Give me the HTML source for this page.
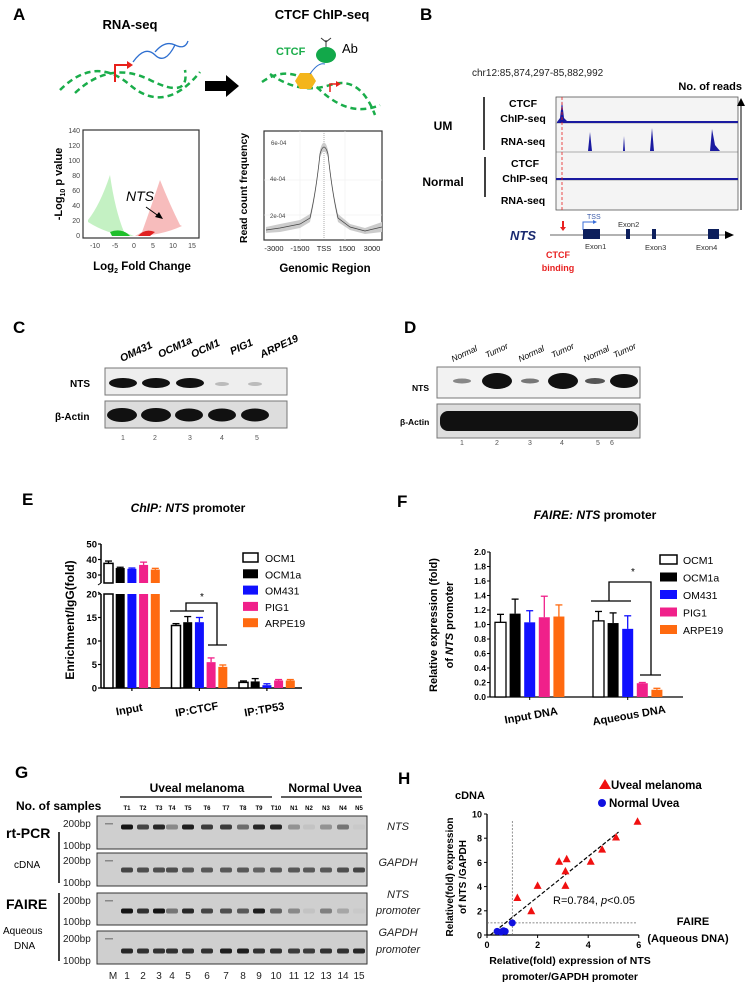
<!DOCTYPE html>
<html><head><meta charset="utf-8"><style>
html,body{margin:0;padding:0;background:#fff}
svg{display:block;font-family:"Liberation Sans",Arial,sans-serif}
</style></head><body>
<svg id="fig" width="754" height="987" viewBox="0 0 754 987" xmlns="http://www.w3.org/2000/svg">
<!-- ===== Panel A ===== -->
<g>
<text x="13" y="20" font-size="17" font-weight="bold">A</text>
<text x="130" y="29" font-size="13" font-weight="bold" text-anchor="middle">RNA-seq</text>
<path d="M60,90 Q95,55 130,85 T200,72" fill="none" stroke="#1aad4a" stroke-width="2.5" stroke-dasharray="6,4"/>
<path d="M75,93 Q110,60 150,80 T185,70" fill="none" stroke="#1aad4a" stroke-width="2.5" stroke-dasharray="6,4"/>
<path d="M115,82 V65 H128" fill="none" stroke="#e8201a" stroke-width="2"/><path d="M127,61 L133,65 L127,69Z" fill="#e8201a"/>
<path d="M133,62 Q145,45 155,55 T175,45" fill="none" stroke="#2e6fd0" stroke-width="1.3"/>
<path d="M155,52 Q165,40 175,45 T188,41" fill="none" stroke="#2e6fd0" stroke-width="1.3"/>
<path d="M205,81 H226 V75 L239,86 L226,97 V91 H205Z" fill="#000"/>
<text x="322" y="19" font-size="13" font-weight="bold" text-anchor="middle">CTCF ChIP-seq</text>
<text x="276" y="55" font-size="11" font-weight="bold" fill="#1aad4a">CTCF</text>
<ellipse cx="326" cy="55" rx="10" ry="8" fill="#12a84a"/>
<text x="342" y="53" font-size="13">Ab</text>
<path d="M326,47 V40 M326,42 L321,38 M326,42 L331,38" stroke="#333" stroke-width="1"/>
<path d="M262,82 Q290,62 320,90 T380,105" fill="none" stroke="#1aad4a" stroke-width="2.5" stroke-dasharray="6,4"/>
<path d="M270,74 Q300,95 330,85 T375,115" fill="none" stroke="#1aad4a" stroke-width="2.5" stroke-dasharray="6,4"/>
<polygon points="300,73 311,73 316,81 311,89 300,89 295,81" fill="#f4b51b"/>
<path d="M310,74 Q318,62 325,64" fill="none" stroke="#2e6fd0" stroke-width="1"/>
<path d="M330,92 V84 H336" fill="none" stroke="#e8201a" stroke-width="1.5"/><path d="M336,81 L341,84 L336,87Z" fill="#e8201a"/>
<!-- volcano -->
<rect x="83" y="130" width="116" height="108" fill="#fff" stroke="#333" stroke-width="1.2"/>
<path d="M88,220 Q100,205 110,175 Q115,210 124,232 L134,236 Q110,236 88,222Z" fill="#7ce07a" opacity="0.45"/>
<path d="M110,232 Q120,228 128,234 L130,236 L112,236Z" fill="#1fbf2a"/>
<path d="M180,225 Q170,205 160,180 Q150,210 142,232 L135,236 Q160,236 182,226Z" fill="#f07a7a" opacity="0.5"/>
<path d="M138,236 Q145,228 155,232 L150,236Z" fill="#e02020"/>
<g font-size="7" fill="#444" text-anchor="end">
<text x="80" y="238">0</text><text x="80" y="223">20</text><text x="80" y="208">40</text><text x="80" y="193">60</text><text x="80" y="178">80</text><text x="80" y="163">100</text><text x="80" y="148">120</text><text x="80" y="133">140</text></g>
<g font-size="7" fill="#444" text-anchor="middle">
<text x="95" y="248">-10</text><text x="115" y="248">-5</text><text x="134" y="248">0</text><text x="153" y="248">5</text><text x="173" y="248">10</text><text x="192" y="248">15</text></g>
<text x="126" y="201" font-size="14" font-style="italic">NTS</text>
<path d="M146,207 L160,217" stroke="#000" stroke-width="1"/><path d="M163,219 L155,217 L159,212Z" fill="#000"/>
<text transform="translate(62,184) rotate(-90)" font-size="11" font-weight="bold" text-anchor="middle">-Log<tspan font-size="7" dy="3">10</tspan><tspan dy="-3"> p value</tspan></text>
<text x="142" y="270" font-size="11.5" font-weight="bold" text-anchor="middle">Log<tspan font-size="7" dy="3">2</tspan><tspan dy="-3"> Fold Change</tspan></text>
<!-- chip profile -->
<rect x="264" y="131" width="118" height="109" fill="#fff" stroke="#333" stroke-width="1.2"/>
<g stroke="#eee" stroke-width="0.6"><line x1="264" y1="180" x2="382" y2="180"/><line x1="264" y1="215" x2="382" y2="215"/><line x1="300" y1="131" x2="300" y2="240"/><line x1="345" y1="131" x2="345" y2="240"/></g>
<line x1="324" y1="131" x2="324" y2="240" stroke="#777" stroke-width="0.6" stroke-dasharray="1,1"/>
<path d="M266,227 L280,224 L300,220 L310,214 Q316,190 320,150 Q324,135 328,150 Q332,190 338,214 L350,224 L365,228 L382,222 L382,232 L365,234 L350,230 L338,222 Q332,195 328,158 Q324,145 320,158 Q316,195 310,222 L300,228 L280,232 L266,233Z" fill="#ccc"/>
<path d="M266,230 L280,228 L300,224 L310,218 Q316,192 320,154 Q324,140 328,154 Q332,192 338,218 L350,227 L365,231 L382,227" fill="none" stroke="#444" stroke-width="0.7"/>
<g font-size="6" fill="#444"><text x="271" y="145">6e-04</text><text x="270" y="181">4e-04</text><text x="270" y="218">2e-04</text></g>
<g font-size="7.5" fill="#222" text-anchor="middle"><text x="274" y="251">-3000</text><text x="300" y="251">-1500</text><text x="324" y="251">TSS</text><text x="347" y="251">1500</text><text x="372" y="251">3000</text></g>
<text transform="translate(247,188) rotate(-90)" font-size="10.5" font-weight="bold" text-anchor="middle">Read count frequency</text>
<text x="325" y="272" font-size="11.5" font-weight="bold" text-anchor="middle">Genomic Region</text>
</g>
<!-- ===== Panel B ===== -->
<g>
<text x="420" y="20" font-size="17" font-weight="bold">B</text>
<text x="472" y="76" font-size="10" fill="#222">chr12:85,874,297-85,882,992</text>
<text x="742" y="90" font-size="11" font-weight="bold" text-anchor="end">No. of reads</text>
<rect x="556" y="97" width="182" height="113" fill="#f4f4f4" stroke="#555" stroke-width="0.8"/>
<g stroke="#666" stroke-width="0.6"><line x1="556" y1="123" x2="738" y2="123"/><line x1="556" y1="152" x2="738" y2="152"/><line x1="556" y1="180" x2="738" y2="180"/></g>
<path d="M557,122 L560,118 L562,101 L564,118 L567,121 L738,121 L738,123 L557,123Z" fill="#1a1aa0"/>
<g fill="#1a1aa0"><path d="M588,151 L590,132 L592,151Z"/><path d="M623,151 L624,136 L625,151Z"/><path d="M650,151 L652,128 L654,151Z"/><path d="M710,151 L712,129 L715,145 L720,151Z"/><rect x="556" y="178" width="182" height="2"/></g>
<line x1="562" y1="97" x2="562" y2="210" stroke="#e82020" stroke-width="0.8" stroke-dasharray="3,2"/>
<path d="M741,210 V103" stroke="#000" stroke-width="1"/><path d="M737,106 L741,98 L745,106Z" fill="#000"/>
<g font-size="10.5" font-weight="bold" text-anchor="middle"><text x="523" y="107">CTCF</text><text x="523" y="122">ChIP-seq</text><text x="523" y="145">RNA-seq</text><text x="525" y="167">CTCF</text><text x="525" y="182">ChIP-seq</text><text x="523" y="204">RNA-seq</text>
<text x="443" y="130" font-size="12">UM</text><text x="443" y="186" font-size="12">Normal</text></g>
<line x1="484" y1="97" x2="484" y2="150" stroke="#000" stroke-width="1.5"/><line x1="485" y1="157" x2="485" y2="197" stroke="#000" stroke-width="1.5"/>
<line x1="550" y1="235" x2="725" y2="235" stroke="#333" stroke-width="0.8"/><path d="M725,231 L734,235 L725,239Z" fill="#000"/>
<g fill="#0d1f5c"><rect x="583" y="229" width="17" height="10"/><rect x="626" y="229" width="4" height="10"/><rect x="652" y="229" width="4" height="10"/><rect x="708" y="229" width="11" height="10"/></g>
<path d="M583,230 V222 H594" fill="none" stroke="#3a6ed8" stroke-width="1"/><path d="M593,220 L597,222 L593,224Z" fill="#3a6ed8"/>
<text x="587" y="219" font-size="7" fill="#3a5aa8">TSS</text>
<g font-size="7.5" fill="#333"><text x="618" y="227">Exon2</text><text x="585" y="249">Exon1</text><text x="645" y="250">Exon3</text><text x="696" y="250">Exon4</text></g>
<text x="510" y="240" font-size="13" font-weight="bold" font-style="italic" fill="#1a2a70">NTS</text>
<path d="M563,221 V228" stroke="#e82020" stroke-width="2"/><path d="M560,227 L563,231 L566,227Z" fill="#e82020"/>
<text x="558" y="258" font-size="9" font-weight="bold" fill="#e82020" text-anchor="middle">CTCF</text>
<text x="558" y="271" font-size="9" font-weight="bold" fill="#e82020" text-anchor="middle">binding</text>
</g>
<!-- ===== Panel C ===== -->
<g>
<text x="13" y="333" font-size="17" font-weight="bold">C</text>
<g font-size="10.5" font-weight="bold" font-style="italic"><text transform="translate(122,362) rotate(-25)">OM431</text><text transform="translate(160,358) rotate(-25)">OCM1a</text><text transform="translate(193,358) rotate(-25)">OCM1</text><text transform="translate(232,355) rotate(-25)">PIG1</text><text transform="translate(262,358) rotate(-25)">ARPE19</text></g>
<rect x="105" y="368" width="182" height="27" fill="#eee" stroke="#777"/>
<rect x="105" y="401" width="182" height="27" fill="#ddd" stroke="#777"/>
<g fill="#111"><ellipse cx="123" cy="383" rx="14" ry="5"/><ellipse cx="156" cy="383" rx="14" ry="5"/><ellipse cx="190" cy="383" rx="14" ry="5"/><ellipse cx="222" cy="384" rx="7" ry="2" fill="#bbb"/><ellipse cx="255" cy="384" rx="7" ry="2" fill="#bbb"/>
<ellipse cx="122" cy="415" rx="15" ry="7"/><ellipse cx="156" cy="415" rx="15" ry="7"/><ellipse cx="189" cy="415" rx="14" ry="6.5"/><ellipse cx="222" cy="415" rx="14" ry="6.5"/><ellipse cx="255" cy="415" rx="14" ry="6.5"/></g>
<text x="70" y="387" font-size="10" font-weight="bold">NTS</text><text x="55" y="420" font-size="10" font-weight="bold">β-Actin</text>
<g font-size="7" fill="#555" text-anchor="middle"><text x="123" y="440">1</text><text x="155" y="440">2</text><text x="190" y="440">3</text><text x="222" y="440">4</text><text x="257" y="440">5</text></g>
</g>
<!-- ===== Panel D ===== -->
<g>
<text x="404" y="333" font-size="17" font-weight="bold">D</text>
<g font-size="8.5" font-style="italic"><text transform="translate(453,362) rotate(-25)">Normal</text><text transform="translate(487,358) rotate(-25)">Tumor</text><text transform="translate(520,362) rotate(-25)">Normal</text><text transform="translate(553,358) rotate(-25)">Tumor</text><text transform="translate(585,362) rotate(-25)">Normal</text><text transform="translate(615,358) rotate(-25)">Tumor</text></g>
<rect x="437" y="367" width="203" height="31" fill="#f2f2f2" stroke="#777"/>
<rect x="437" y="404" width="203" height="34" fill="#ddd" stroke="#777"/>
<g fill="#111"><ellipse cx="462" cy="381" rx="9" ry="2.5" fill="#888"/><ellipse cx="497" cy="381" rx="15" ry="8"/><ellipse cx="530" cy="381" rx="9" ry="2.5" fill="#777"/><ellipse cx="563" cy="381" rx="15" ry="8"/><ellipse cx="595" cy="381" rx="10" ry="3" fill="#555"/><ellipse cx="624" cy="381" rx="14" ry="7"/>
<rect x="440" y="411" width="198" height="20" rx="8"/></g>
<text x="412" y="391" font-size="8.5" font-weight="bold">NTS</text><text x="400" y="425" font-size="8.5" font-weight="bold">β-Actin</text>
<g font-size="7" fill="#555" text-anchor="middle"><text x="462" y="445">1</text><text x="497" y="445">2</text><text x="530" y="445">3</text><text x="562" y="445">4</text><text x="598" y="445">5</text><text x="612" y="445">6</text></g>
</g>
<!-- ===== Panel E ===== -->
<g id="panelE">
<text x="22" y="505" font-size="17" font-weight="bold">E</text>
<text x="188" y="512" font-size="12" font-weight="bold" text-anchor="middle"><tspan font-style="italic">ChIP: NTS</tspan> promoter</text>
<text transform="translate(74,620) rotate(-90)" font-size="12" font-weight="bold" text-anchor="middle">Enrichment/IgG(fold)</text>
</g>
<!-- ===== Panel F ===== -->
<g id="panelF">
<text x="397" y="507" font-size="17" font-weight="bold">F</text>
<text x="595" y="519" font-size="12" font-weight="bold" text-anchor="middle"><tspan font-style="italic">FAIRE: NTS</tspan> promoter</text>
<text transform="translate(437,625) rotate(-90)" font-size="11" font-weight="bold" text-anchor="middle">Relative expression (fold)</text>
<text transform="translate(453,625) rotate(-90)" font-size="11" font-weight="bold" text-anchor="middle">of <tspan font-style="italic">NTS</tspan> promoter</text>
</g>
<!-- ===== Panel G ===== -->
<g id="panelG">
<text x="15" y="778" font-size="17" font-weight="bold">G</text>
<text x="197" y="792" font-size="12" font-weight="bold" text-anchor="middle">Uveal melanoma</text>
<line x1="120" y1="797" x2="272" y2="797" stroke="#000" stroke-width="1.3"/>
<text x="325" y="792" font-size="12" font-weight="bold" text-anchor="middle">Normal Uvea</text>
<line x1="281" y1="797" x2="362" y2="797" stroke="#000" stroke-width="1.3"/>
<text x="16" y="810" font-size="12" font-weight="bold">No. of samples</text>
<text x="6" y="838" font-size="14" font-weight="bold">rt-PCR</text>
<text x="14" y="868" font-size="10">cDNA</text>
<text x="6" y="909" font-size="14" font-weight="bold">FAIRE</text>
<text x="3" y="934" font-size="10">Aqueous</text><text x="14" y="949" font-size="10">DNA</text>
<line x1="59" y1="832" x2="59" y2="883" stroke="#000" stroke-width="1.5"/>
<line x1="59" y1="893" x2="59" y2="961" stroke="#000" stroke-width="1.5"/>
<g font-style="italic" font-size="11" fill="#222" text-anchor="middle"><text x="398" y="830">NTS</text><text x="398" y="866">GAPDH</text><text x="398" y="898">NTS</text><text x="398" y="914">promoter</text><text x="398" y="936">GAPDH</text><text x="398" y="953">promoter</text></g>
</g>
<!-- ===== Panel H ===== -->
<g id="panelH">
<text x="398" y="784" font-size="17" font-weight="bold">H</text>
<path d="M599,789 L605,779 L611,789Z" fill="#f01010"/>
<text x="611" y="789" font-size="11.5" font-weight="bold">Uveal melanoma</text>
<circle cx="602" cy="803" r="4" fill="#1010e0"/>
<text x="609" y="807" font-size="11.5" font-weight="bold">Normal Uvea</text>
<text x="455" y="799" font-size="11" font-weight="bold">cDNA</text>
<text transform="translate(453,877) rotate(-90)" font-size="10" font-weight="bold" text-anchor="middle">Relative(fold) expression</text>
<text transform="translate(466,877) rotate(-90)" font-size="10" font-weight="bold" text-anchor="middle">of NTS /GAPDH</text>
<text x="570" y="964" font-size="10.5" font-weight="bold" text-anchor="middle">Relative(fold) expression of NTS</text>
<text x="570" y="980" font-size="10.5" font-weight="bold" text-anchor="middle">promoter/GAPDH promoter</text>
<text x="553" y="904" font-size="11">R=0.784, <tspan font-style="italic">p</tspan>&lt;0.05</text>
<text x="693" y="925" font-size="11" font-weight="bold" text-anchor="middle">FAIRE</text>
<text x="688" y="942" font-size="11" font-weight="bold" text-anchor="middle">(Aqueous DNA)</text>
</g>
</svg>
<script>
// ===== Chart E data =====
var eGroups = ["Input", "IP:CTCF", "IP:TP53"];
var eSeries = ["OCM1", "OCM1a", "OM431", "PIG1", "ARPE19"];
var eColors = ["#ffffff", "#000000", "#1010ff", "#f0208a", "#ff6a10"];
var eValuesOCM1 = [37.5, 13.3, 1.2];
var eValuesOCM1a = [34.5, 14.0, 1.4];
var eValuesOM431 = [34.0, 14.0, 0.6];
var eValuesPIG1 = [36.5, 5.5, 1.6];
var eValuesARPE19 = [33.5, 4.5, 1.6];
var eErrOCM1 = [1.5, 0.4, 0.3];
var eErrOCM1a = [0.5, 1.2, 0.6];
var eErrOM431 = [0.5, 1.0, 0.3];
var eErrPIG1 = [1.8, 0.9, 0.2];
var eErrARPE19 = [0.8, 0.4, 0.2];
var eLowerTicks = [0, 5, 10, 15, 20];
var eUpperTicks = [30, 40, 50];
// ===== Chart F data =====
var fGroups = ["Input DNA", "Aqueous DNA"];
var fValuesOCM1 = [1.03, 1.05];
var fValuesOCM1a = [1.15, 1.02];
var fValuesOM431 = [1.03, 0.94];
var fValuesPIG1 = [1.10, 0.19];
var fValuesARPE19 = [1.11, 0.10];
var fErrOCM1 = [0.11, 0.13];
var fErrOCM1a = [0.20, 0.14];
var fErrOM431 = [0.16, 0.18];
var fErrPIG1 = [0.29, 0.01];
var fErrARPE19 = [0.16, 0.02];
var fTicks = [0, 0.2, 0.4, 0.6, 0.8, 1.0, 1.2, 1.4, 1.6, 1.8, 2.0];
// ===== Chart H data =====
var hUMx = [1.2, 1.75, 2.0, 2.85, 3.15, 3.1, 3.1, 4.1, 4.55, 5.1, 5.95];
var hUMy = [3.1, 2.0, 4.1, 6.1, 6.3, 5.3, 4.1, 6.1, 7.1, 8.1, 9.4];
var hNUx = [0.4, 0.55, 0.65, 0.72, 1.0];
var hNUy = [0.3, 0.25, 0.35, 0.3, 1.0];
var hXTicks = [0, 2, 4, 6];
var hYTicks = [0, 2, 4, 6, 8, 10];
// ===== Gel data (band intensity 0-1) =====
var gLaneLabels = ["T1","T2","T3","T4","T5","T6","T7","T8","T9","T10","N1","N2","N3","N4","N5"];
var gLaneNumbers = ["M","1","2","3","4","5","6","7","8","9","10","11","12","13","14","15"];
var gNTS = [0.95,0.7,0.85,0.35,0.9,0.75,0.75,0.5,0.85,0.85,0.3,0.05,0.3,0.45,0.02];
var gGAPDH = [0.7,0.65,0.65,0.65,0.6,0.6,0.6,0.6,0.55,0.6,0.6,0.6,0.6,0.65,0.7];
var gNTSprom = [0.95,0.8,0.95,0.45,0.85,0.7,0.65,0.6,0.9,0.55,0.35,0.05,0.4,0.2,0.02];
var gGAPDHprom = [0.85,0.8,0.8,0.8,0.8,0.8,0.9,0.9,0.8,0.8,0.75,0.75,0.8,0.8,0.85];

var NS = "http://www.w3.org/2000/svg";
function mk(parent, tag, attrs, txt) {
  var el = document.createElementNS(NS, tag);
  for (var k in attrs) el.setAttribute(k, attrs[k]);
  if (txt !== undefined) el.textContent = txt;
  parent.appendChild(el);
  return el;
}

// ---------- Chart E ----------
(function(){
  var g = document.getElementById("panelE");
  var vals = [eValuesOCM1, eValuesOCM1a, eValuesOM431, eValuesPIG1, eValuesARPE19];
  var errs = [eErrOCM1, eErrOCM1a, eErrOM431, eErrPIG1, eErrARPE19];
  var y0 = 688, lowTop = 594, upBot = 583;
  function yE(v){ return v <= 20 ? y0 - v * 4.7 : 575 - (v - 30) * 1.55; }
  var ax = 101;
  var a1 = mk(g, "line", {x1:ax, y1:y0, x2:ax, y2:lowTop, stroke:"#000", "stroke-width":1.5});
  
  
  var a2 = mk(g, "line", {x1:ax, y1:upBot, x2:ax, y2:yE(50), stroke:"#000", "stroke-width":1.5});
  
  
  var xa = mk(g, "line", {x1:ax, y1:y0, x2:302, y2:y0, stroke:"#000", "stroke-width":1.5});
  
  
  mk(g, "line", {x1:ax, y1:upBot, x2:ax-3, y2:upBot+2, stroke:"#000"});
  mk(g, "line", {x1:ax, y1:lowTop, x2:ax-3, y2:lowTop-2, stroke:"#000"});
  eLowerTicks.concat(eUpperTicks).forEach(function(t){
    var y = yE(t);
    mk(g, "line", {x1:ax-3, y1:y, x2:ax, y2:y, stroke:"#000", "stroke-width":1.2});
    var tl = mk(g, "text", {x:ax-4, y:y+3.5, "font-size":9.5, "font-weight":"bold", "text-anchor":"end"}, String(t));
    
    
  });
  var groupStart = 104, groupPitch = 67.5, barPitch = 11.7, bw = 9;
  eGroups.forEach(function(name, gi){
    var cx = groupStart + gi * groupPitch + 2 * barPitch + bw / 2;
    mk(g, "line", {x1:cx, y1:y0, x2:cx, y2:y0+3, stroke:"#000", "stroke-width":1.2});
    var xl = mk(g, "text", {transform:"translate("+(cx-2)+","+(y0+25)+") rotate(-10)", "font-size":11, "font-weight":"bold", "text-anchor":"middle"}, name);
    
    
    vals.forEach(function(arr, si){
      var v = arr[gi], e = errs[si][gi];
      var x = groupStart + gi * groupPitch + si * barPitch;
      var col = eColors[si];
      var barG = mk(g, "g", {});
      
      
      var sw = si === 0 ? 1.5 : 0;
      if (v > 20) {
        mk(barG, "rect", {x:x, y:lowTop, width:bw, height:y0-lowTop, fill:col, stroke:"#000", "stroke-width":sw});
        mk(barG, "rect", {x:x, y:yE(v), width:bw, height:upBot-yE(v), fill:col, stroke:"#000", "stroke-width":sw});
      } else {
        mk(barG, "rect", {x:x, y:yE(v), width:bw, height:y0-yE(v), fill:col, stroke:"#000", "stroke-width":sw});
      }
      var ec = si === 0 ? "#000" : col;
      var yt = yE(v + e);
      mk(barG, "line", {x1:x+bw/2, y1:yE(v), x2:x+bw/2, y2:yt, stroke:ec, "stroke-width":1.3});
      mk(barG, "line", {x1:x+1, y1:yt, x2:x+bw-1, y2:yt, stroke:ec, "stroke-width":1.3});
    });
  });
  var br = mk(g, "path", {d:"M170,611 H204 M186,611 V603 H217 V645 M208,645 H227", fill:"none", stroke:"#000", "stroke-width":1.3});
  
  
  mk(g, "text", {x:202, y:600, "font-size":10, "text-anchor":"middle"}, "*");
  eSeries.forEach(function(s, i){
    var ly = 553 + i * 16.3;
    var lg = mk(g, "g", {});
    
    
    mk(lg, "rect", {x:243, y:ly, width:15, height:9, fill:eColors[i], stroke:i===0?"#000":"none", "stroke-width":1.5});
    mk(lg, "text", {x:265, y:ly+9, "font-size":10.5}, s);
  });
})();

// ---------- Chart F ----------
(function(){
  var g = document.getElementById("panelF");
  var vals = [fValuesOCM1, fValuesOCM1a, fValuesOM431, fValuesPIG1, fValuesARPE19];
  var errs = [fErrOCM1, fErrOCM1a, fErrOM431, fErrPIG1, fErrARPE19];
  var y0 = 697;
  function yF(v){ return y0 - v * 72.5; }
  var ax = 490;
  var a1 = mk(g, "line", {x1:ax, y1:y0, x2:ax, y2:yF(2), stroke:"#000", "stroke-width":1.3});
  
  
  var xa = mk(g, "line", {x1:ax, y1:y0, x2:683, y2:y0, stroke:"#000", "stroke-width":1.3});
  
  
  fTicks.forEach(function(t){
    var y = yF(t);
    mk(g, "line", {x1:ax-3, y1:y, x2:ax, y2:y, stroke:"#000", "stroke-width":1});
    var tl = mk(g, "text", {x:ax-4, y:y+3, "font-size":8.5, "font-weight":"bold", "text-anchor":"end"}, t.toFixed(1));
    
    
  });
  var groupStart = 495, groupPitch = 98, barPitch = 14.6, bw = 11;
  fGroups.forEach(function(name, gi){
    var cx = groupStart + gi * groupPitch + 2 * barPitch + bw / 2;
    mk(g, "line", {x1:cx, y1:y0, x2:cx, y2:y0+3, stroke:"#000"});
    var xl = mk(g, "text", {transform:"translate("+(cx+2)+","+(y0+22)+") rotate(-10)", "font-size":11, "font-weight":"bold", "text-anchor":"middle"}, name);
    
    
    vals.forEach(function(arr, si){
      var v = arr[gi], e = errs[si][gi];
      var x = groupStart + gi * groupPitch + si * barPitch;
      var col = eColors[si];
      var barG = mk(g, "g", {});
      
      
      mk(barG, "rect", {x:x, y:yF(v), width:bw, height:y0-yF(v), fill:col, stroke:"#000", "stroke-width":si===0?1.3:0});
      var ec = si === 0 ? "#000" : col;
      var yt = yF(v + e);
      mk(barG, "line", {x1:x+bw/2, y1:yF(v), x2:x+bw/2, y2:yt, stroke:ec, "stroke-width":1.3});
      mk(barG, "line", {x1:x+2, y1:yt, x2:x+bw-2, y2:yt, stroke:ec, "stroke-width":1.3});
    });
  });
  var br = mk(g, "path", {d:"M591,601 H631 M609,601 V582 H651 V675 M640,675 H661", fill:"none", stroke:"#000", "stroke-width":1.3});
  
  
  mk(g, "text", {x:633, y:575, "font-size":10, "text-anchor":"middle"}, "*");
  eSeries.forEach(function(s, i){
    var ly = 555 + i * 17.5;
    var lg = mk(g, "g", {});
    
    
    mk(lg, "rect", {x:660, y:ly, width:17, height:9, fill:eColors[i], stroke:i===0?"#000":"none", "stroke-width":1.5});
    mk(lg, "text", {x:683, y:ly+9, "font-size":10.5}, s);
  });
})();

// ---------- Chart H ----------
(function(){
  var g = document.getElementById("panelH");
  function xH(v){ return 487 + v * 25.3; }
  function yH(v){ return 935 - v * 12.1; }
  var ya = mk(g, "line", {x1:xH(0), y1:yH(0), x2:xH(0), y2:yH(10), stroke:"#000", "stroke-width":1.3});
  
  
  var xa = mk(g, "line", {x1:xH(0), y1:yH(0), x2:xH(6), y2:yH(0), stroke:"#000", "stroke-width":1.3});
  
  
  hYTicks.forEach(function(t){
    mk(g, "line", {x1:xH(0)-3, y1:yH(t), x2:xH(0), y2:yH(t), stroke:"#000"});
    var tl = mk(g, "text", {x:xH(0)-5, y:yH(t)+3.5, "font-size":9, "font-weight":"bold", "text-anchor":"end"}, String(t));
    
    
  });
  hXTicks.forEach(function(t){
    mk(g, "line", {x1:xH(t), y1:yH(0), x2:xH(t), y2:yH(0)+3, stroke:"#000"});
    var tl = mk(g, "text", {x:xH(t), y:yH(0)+13, "font-size":9, "font-weight":"bold", "text-anchor":"middle"}, String(t));
    
    
  });
  var vl = mk(g, "line", {x1:xH(1), y1:yH(0), x2:xH(1), y2:yH(9.5), stroke:"#666", "stroke-width":0.7, "stroke-dasharray":"2,1.5"});
  
  
  var hl = mk(g, "line", {x1:xH(0), y1:yH(1), x2:xH(5.9), y2:yH(1), stroke:"#666", "stroke-width":0.7, "stroke-dasharray":"2,1.5"});
  
  
  var xs = hUMx.concat(hNUx), ys = hUMy.concat(hNUy), n = xs.length;
  var mx = xs.reduce(function(a,b){return a+b;},0)/n, my = ys.reduce(function(a,b){return a+b;},0)/n;
  var sxy = 0, sxx = 0;
  for (var i = 0; i < n; i++){ sxy += (xs[i]-mx)*(ys[i]-my); sxx += (xs[i]-mx)*(xs[i]-mx); }
  var b = sxy / sxx, a = my - b * mx;
  var xa0 = Math.max(0, -a / b), xa1 = 5.2;
  var fit = mk(g, "line", {x1:xH(xa0), y1:yH(a + b*xa0), x2:xH(xa1), y2:yH(a + b*xa1), stroke:"#000", "stroke-width":1.2, "stroke-dasharray":"4,2"});
  
  
  hUMx.forEach(function(x, i){
    var px = xH(x), py = yH(hUMy[i]);
    var p = mk(g, "path", {d:"M"+(px-4)+","+(py+3.5)+" L"+px+","+(py-4)+" L"+(px+4)+","+(py+3.5)+"Z", fill:"#f01010"});
    
    
  });
  hNUx.forEach(function(x, i){
    var c = mk(g, "circle", {cx:xH(x), cy:yH(hNUy[i]), r:3.5, fill:"#1010e0"});
    
    
  });
})();

// ---------- Panel G gels ----------
(function(){
  var g = document.getElementById("panelG");
  var laneX = [127,143,159,172,188,207,226,243,259,276,294,309,326,343,359];
  var gels = [
    {y:816, h:33, band:827, data:gNTS, name:"gel-nts-cdna"},
    {y:853, h:33, band:870, data:gGAPDH, name:"gel-gapdh-cdna"},
    {y:893, h:32, band:911, data:gNTSprom, name:"gel-nts-promoter"},
    {y:931, h:33, band:951, data:gGAPDHprom, name:"gel-gapdh-promoter"}
  ];
  gLaneLabels.forEach(function(l, i){
    var t = mk(g, "text", {x:laneX[i], y:810, "font-size":6, "font-weight":"bold", "text-anchor":"middle"}, l);
    
    
  });
  gLaneNumbers.forEach(function(l, i){
    var x = i === 0 ? 113 : laneX[i-1];
    var t = mk(g, "text", {x:x, y:979, "font-size":10, fill:"#222", "text-anchor":"middle"}, l);
    
    
  });
  gels.forEach(function(gel){
    var gg = mk(g, "g", {});
    
    
    mk(gg, "rect", {x:97, y:gel.y, width:270, height:gel.h, fill:"#cfcfcf", stroke:"#333", "stroke-width":1});
    mk(gg, "text", {x:63, y:gel.y+11, "font-size":10, fill:"#222"}, "200bp");
    mk(gg, "text", {x:63, y:gel.y+gel.h, "font-size":10, fill:"#222"}, "100bp");
    mk(gg, "rect", {x:105, y:gel.y+7, width:8, height:1.5, fill:"#888"});
    gel.data.forEach(function(v, i){
      var shade = Math.round(205 - v * 195);
      var r = mk(gg, "rect", {x:laneX[i]-6, y:gel.band-2.5, width:12, height:5, rx:2, fill:"rgb("+shade+","+shade+","+shade+")"});
      
      
    });
  });
})();
</script>
</body></html>
